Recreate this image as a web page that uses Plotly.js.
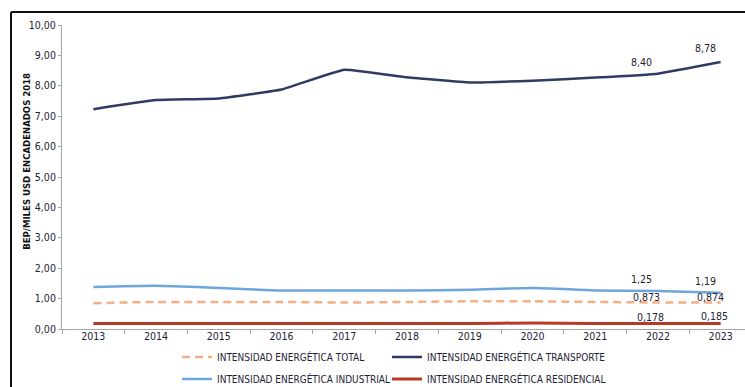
<!DOCTYPE html>
<html>
<head>
<meta charset="utf-8">
<script src="https://cdn.plot.ly/plotly-3.0.1.min.js"></script>
<style>
  html, body { margin: 0; padding: 0; background: #fff; overflow: hidden; width: 745px; height: 387px; }
  #wrap { position: relative; width: 745px; height: 387px; overflow: hidden; background: #fff; }
  #chart { position: absolute; left: 0; top: 0; width: 760px; height: 387px; }
</style>
</head>
<body>
<div id="wrap">
  <div id="chart"></div>
</div>
<script>
// ---- data ----
const years = ['2013','2014','2015','2016','2017','2018','2019','2020','2021','2022','2023'];
const total       = [0.85, 0.89, 0.89, 0.89, 0.87, 0.89, 0.91, 0.91, 0.89, 0.873, 0.874];
const transporte  = [7.23, 7.53, 7.58, 7.88, 8.53, 8.28, 8.11, 8.17, 8.27, 8.40, 8.78];
const industrial  = [1.38, 1.42, 1.35, 1.27, 1.27, 1.27, 1.29, 1.35, 1.27, 1.25, 1.19];
const residencial = [0.18, 0.18, 0.18, 0.18, 0.18, 0.18, 0.18, 0.20, 0.18, 0.178, 0.185];
const names = ['INTENSIDAD ENERGÉTICA TOTAL', 'INTENSIDAD ENERGÉTICA TRANSPORTE',
               'INTENSIDAD ENERGÉTICA INDUSTRIAL', 'INTENSIDAD ENERGÉTICA RESIDENCIAL'];
const yTitle = 'BEP/MILES USD ENCADENADOS 2018';
const labelIdx = [9, 10];

const FONT = '"Liberation Sans Narrow", "DejaVu Sans Condensed", Arial, sans-serif';
const TXT = '#1e2233';

function fmt(v, d) { return v.toFixed(d).replace('.', ','); }

const traces = [
  { x: years, y: total, name: names[0], mode: 'lines', legend: 'legend',
    line: { color: '#f2b084', width: 2.5, dash: '8px,5px', shape: 'spline', smoothing: 0.5 } },
  { x: years, y: transporte, name: names[1], mode: 'lines', legend: 'legend2',
    line: { color: '#2f3b64', width: 2.5, shape: 'spline', smoothing: 0.3 } },
  { x: years, y: industrial, name: names[2], mode: 'lines', legend: 'legend3',
    line: { color: '#6ea6dc', width: 2.5, shape: 'spline', smoothing: 0.6 } },
  { x: years, y: residencial, name: names[3], mode: 'lines', legend: 'legend4',
    line: { color: '#b83a26', width: 3, shape: 'spline', smoothing: 0.6 } }
];

const annotations = [];
const labelSets = [
  { vals: transporte, dec: 2, dx: -16, dy: 12 },
  { vals: industrial, dec: 2, dx: -16, dy: 12 },
  { vals: total, dec: 3, dx: -11, dy: 5 },
  { vals: residencial, dec: 3, dx: -7, dy: 7 }
];
labelSets.forEach(s => {
  labelIdx.forEach(i => {
    annotations.push({ x: i, y: s.vals[i], xref: 'x', yref: 'y', text: fmt(s.vals[i], s.dec),
      showarrow: false, xshift: s.dx + (i === 10 ? 1 : 0), yshift: s.dy + (i === 10 && s.vals === transporte ? 2 : 0),
      font: { family: FONT, size: 10.5, color: TXT } });
  });
});
annotations.push({ xref: 'paper', yref: 'paper', x: -0.0507, y: 0.55, xanchor: 'center', yanchor: 'middle',
  text: '<b>' + yTitle + '</b>',
  textangle: -90, showarrow: false, font: { family: FONT, size: 9.5, color: '#111' } });

function leg(xpx, ypx) {
  return {
    orientation: 'h', xref: 'container', yref: 'container', xanchor: 'left', yanchor: 'middle',
    x: xpx / 760, y: 1 - ypx / 387, itemwidth: 30,
    font: { family: FONT, size: 10, color: TXT }, bgcolor: 'rgba(0,0,0,0)', borderwidth: 0
  };
}

// outer frame (left and top edges; the rest lies outside the picture)
const fx = (11 - 62) / 690, fy = (329 - 12) / 304;
const shapes = [
  { type: 'line', xref: 'paper', yref: 'paper', x0: fx, x1: fx, y0: -0.3, y1: fy, line: { color: '#111', width: 2 } },
  { type: 'line', xref: 'paper', yref: 'paper', x0: fx, x1: (760 - 62) / 690, y0: fy, y1: fy, line: { color: '#111', width: 2 } }
];

const layout = {
  width: 760, height: 387,
  margin: { l: 62, r: 8, t: 25, b: 58 },
  paper_bgcolor: '#fff', plot_bgcolor: '#fff',
  separators: ',.',
  showlegend: true,
  legend: leg(177, 357),
  legend2: leg(387, 357),
  legend3: leg(177, 379),
  legend4: leg(387, 379),
  xaxis: {
    type: 'category', range: [-0.5, 10.5], showgrid: false, zeroline: false,
    showline: true, linecolor: '#a6a6a6', linewidth: 1,
    ticks: 'outside', tickson: 'boundaries', ticklen: 4, tickcolor: '#a6a6a6',
    ticklabelstandoff: -3,
    tickfont: { family: FONT, size: 10.5, color: TXT }
  },
  yaxis: {
    range: [0, 10], dtick: 1, tickformat: '.2f', showgrid: false, zeroline: false,
    showline: true, linecolor: '#a6a6a6', linewidth: 1,
    ticks: 'outside', ticklen: 3, tickcolor: '#a6a6a6',
    tickfont: { family: FONT, size: 10.5, color: TXT }
  },
  shapes: shapes,
  annotations: annotations
};

Plotly.newPlot('chart', traces, layout, { displayModeBar: false, staticPlot: true });
</script>
</body>
</html>
